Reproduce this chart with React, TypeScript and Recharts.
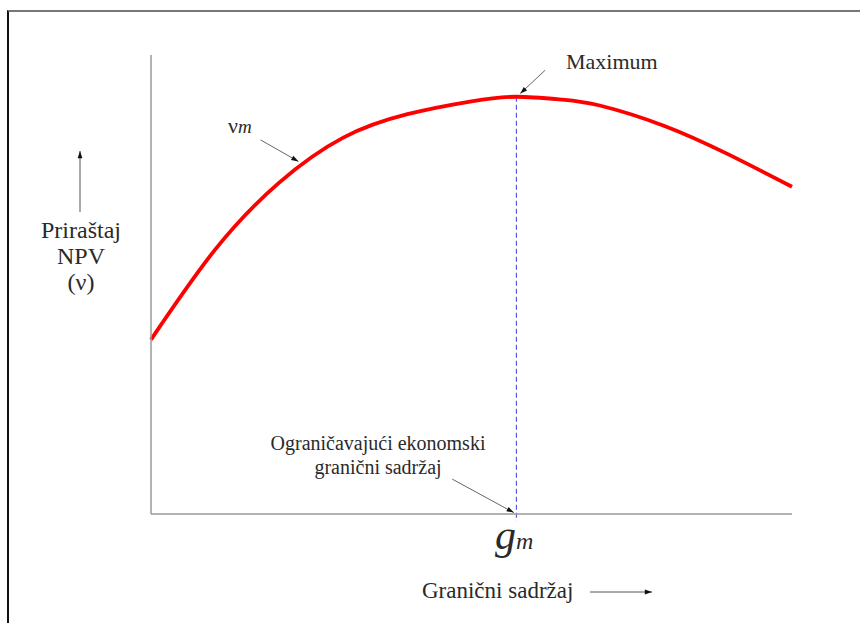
import { Line, LineChart, ReferenceLine, XAxis, YAxis } from "recharts";

// granični sadržaj (x) i prirast NPV (v), očitano sa slike
const marginalContent = [0, 10, 20, 30, 40, 50, 57, 64, 70, 80, 90, 100];
const npvIncrement = [38, 57.6, 72.2, 82, 87.1, 89.9, 90.9, 90.3, 89.0, 84.6, 78.4, 71.3];
const optimum = { x: 57, v: 90.9 };

const yLabel = ["Priraštaj", "NPV", "(ν)"];
const limitLabel = ["Ograničavajući ekonomski", "granični sadržaj"];
const xLabel = "Granični sadržaj";

const data = marginalContent.map((x, i) => ({ x, v: npvIncrement[i] }));

const SERIF = "'Liberation Serif', serif";

export default function App() {
  return (
    <div style={{ position: "absolute", left: 0, top: 0, width: 860, height: 623, background: "#fff" }}>
      {/* okvir */}
      <div
        style={{
          position: "absolute",
          left: 7,
          top: 10,
          width: 853,
          height: 613,
          borderLeft: "2px solid #111",
          borderTop: "2px solid #777",
        }}
      />
      <svg width={860} height={623} style={{ position: "absolute", left: 0, top: 0 }}>
        <defs>
          <marker id="head" viewBox="0 0 12 10" refX="12" refY="5" markerWidth="11" markerHeight="6" orient="auto" markerUnits="userSpaceOnUse">
            <path d="M0,1 L12,5 L0,9 Z" fill="#111" />
          </marker>
        </defs>
      </svg>
      <div style={{ position: "absolute", left: 0, top: 0 }}>
        <LineChart width={860} height={623} data={data} margin={{ top: 55, right: 68, bottom: 108, left: 150 }}>
          <XAxis
            dataKey="x"
            type="number"
            domain={[0, 100]}
            tick={false}
            tickLine={false}
            axisLine={{ stroke: "#999", strokeWidth: 1.5 }}
            height={1}
          />
          <YAxis
            type="number"
            domain={[0, 100]}
            tick={false}
            tickLine={false}
            axisLine={{ stroke: "#999", strokeWidth: 1.5 }}
            width={1}
          />
          <ReferenceLine
            segment={[{ x: optimum.x, y: optimum.v }, { x: optimum.x, y: -1.5 }]}
            stroke="#3a3ae0"
            strokeDasharray="5 3"
            strokeWidth={1}
            ifOverflow="visible"
          />
          <Line
            dataKey="v"
            type="natural"
            stroke="#ff0000"
            strokeWidth={3.8}
            dot={false}
            isAnimationActive={false}
          />
          <ReferenceLine
            segment={[{ x: 61.5, y: 96.7 }, { x: 57.6, y: 91.6 }]}
            stroke="#666"
            strokeWidth={1}
            markerEnd="url(#head)"
            ifOverflow="visible"
          />
          <ReferenceLine
            segment={[{ x: 17.1, y: 81.5 }, { x: 23, y: 76.8 }]}
            stroke="#666"
            strokeWidth={1}
            markerEnd="url(#head)"
            ifOverflow="visible"
          />
          <ReferenceLine
            segment={[{ x: 47, y: 7.6 }, { x: 56.6, y: 0.3 }]}
            stroke="#666"
            strokeWidth={1}
            markerEnd="url(#head)"
            ifOverflow="visible"
          />
        </LineChart>
      </div>
      <svg
        width={860}
        height={623}
        style={{ position: "absolute", left: 0, top: 0, pointerEvents: "none" }}
        fontFamily={SERIF}
        fill="#2a2a2a"
      >
        <text x={566} y={69} fontSize={22}>Maximum</text>
        <text x={228} y={133} fontSize={22}>
          ν<tspan fontStyle="italic" fontSize={19}>m</tspan>
        </text>
        {limitLabel.map((t, i) => (
          <text key={t} x={378} y={450 + i * 24} fontSize={20} textAnchor="middle">{t}</text>
        ))}
        <text x={495} y={549} fontSize={42} fontStyle="italic">
          g<tspan fontSize={24}>m</tspan>
        </text>
        <text x={422} y={598} fontSize={23}>{xLabel}</text>
        <line x1={590} y1={592} x2={652} y2={592} stroke="#555" strokeWidth={1} markerEnd="url(#head)" />
        {yLabel.map((t, i) => (
          <text key={t} x={81} y={238 + i * 26} fontSize={24} textAnchor="middle">{t}</text>
        ))}
        <line x1={80} y1={212} x2={80} y2={151} stroke="#555" strokeWidth={1} markerEnd="url(#head)" />
      </svg>
    </div>
  );
}
